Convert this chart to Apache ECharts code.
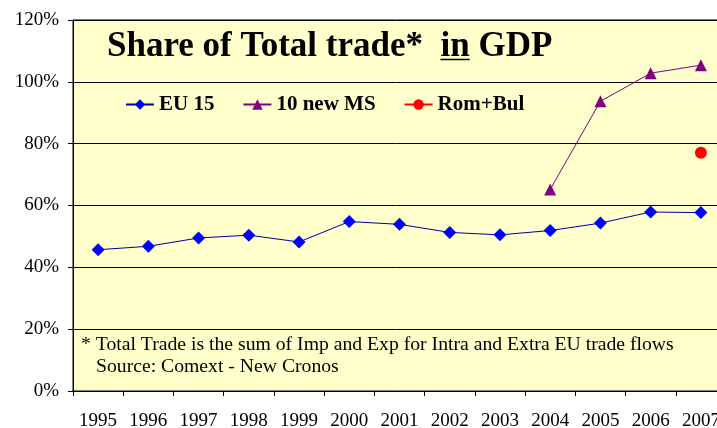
<!DOCTYPE html>
<html><head><meta charset="utf-8">
<script src="https://cdn.jsdelivr.net/npm/echarts@6/dist/echarts.min.js"></script>
<style>html,body{margin:0;padding:0;background:#fff}#c{width:717px;height:428px}</style>
</head><body><div id="c"></div>
<script>
const years = ['1995','1996','1997','1998','1999','2000','2001','2002','2003','2004','2005','2006','2007'];
const eu15 = [45.7, 46.8, 49.5, 50.4, 48.2, 54.8, 53.9, 51.3, 50.5, 51.9, 54.3, 57.9, 57.7];
const newMS = [null, null, null, null, null, null, null, null, null, 65.2, 93.7, 102.8, 105.4];
const romBul = [null, null, null, null, null, null, null, null, null, null, null, null, 77.1];
const yTicks = [0, 20, 40, 60, 80, 100, 120];
const serif = '"Liberation Serif", "DejaVu Serif", serif';

const titleFont = 'bold 35px ' + serif;
const ctx = document.createElement('canvas').getContext('2d');
ctx.font = titleFont;
const preW = ctx.measureText('Share of Total trade*  ').width;
const inW = ctx.measureText('in').width;
const titleX = 107;

const chart = echarts.init(document.getElementById('c'));
chart.setOption({
  animation: false,
  backgroundColor: '#fff',
  grid: { left: 73, top: 20, width: 653, bottom: 37, containLabel: false, outerBoundsMode: 'none',
          show: true, backgroundColor: '#FFFFCC', borderColor: '#000', borderWidth: 1 },
  xAxis: {
    type: 'category', data: years, boundaryGap: true,
    axisLine: { lineStyle: { color: '#000', width: 1 } },
    axisTick: { show: true, length: 5, lineStyle: { color: '#000' } },
    axisLabel: { color: '#000', fontFamily: serif, fontSize: 19, margin: 21 }
  },
  yAxis: {
    type: 'value', min: yTicks[0], max: yTicks[yTicks.length-1], interval: 20,
    axisLine: { show: true, lineStyle: { color: '#000', width: 1 } },
    axisTick: { show: true, length: 5, lineStyle: { color: '#000' } },
    axisLabel: { color: '#000', fontFamily: serif, fontSize: 19, margin: 14, formatter: '{value}%' },
    splitLine: { lineStyle: { color: '#000', width: 1 } }
  },
  legend: {
    left: 120, top: 89, itemGap: 28, itemWidth: 28, itemHeight: 13,
    textStyle: { fontFamily: serif, fontSize: 21, fontWeight: 'bold', color: '#000' },
    data: ['EU 15', '10 new MS', 'Rom+Bul']
  },
  series: [
    { name: 'EU 15', type: 'line', data: eu15, symbol: 'diamond', symbolSize: 13,
      lineStyle: { color: '#0000A0', width: 1 }, itemStyle: { color: '#0000FF' } },
    { name: '10 new MS', type: 'line', data: newMS, symbol: 'triangle', symbolSize: 12,
      lineStyle: { color: '#800080', width: 1 }, itemStyle: { color: '#800080' } },
    { name: 'Rom+Bul', type: 'line', data: romBul, symbol: 'circle', symbolSize: 12,
      lineStyle: { color: '#FF0000', width: 1 }, itemStyle: { color: '#FF0000' } }
  ],
  graphic: [
    { type: 'text', left: titleX, top: 29, z: 10,
      style: { text: 'Share of Total trade*  in GDP', font: titleFont, fill: '#000' } },
    { type: 'line', z: 10,
      shape: { x1: titleX + preW, y1: 59.5, x2: titleX + preW + inW, y2: 59.5 },
      style: { stroke: '#000', lineWidth: 1.5 } },
    { type: 'text', left: 81, top: 335, z: 10,
      style: { text: '* Total Trade is the sum of Imp and Exp for Intra and Extra EU trade flows', font: '19.7px ' + serif, fill: '#000' } },
    { type: 'text', left: 96, top: 357, z: 10,
      style: { text: 'Source: Comext - New Cronos', font: '19.7px ' + serif, fill: '#000' } }
  ]
});
</script></body></html>
